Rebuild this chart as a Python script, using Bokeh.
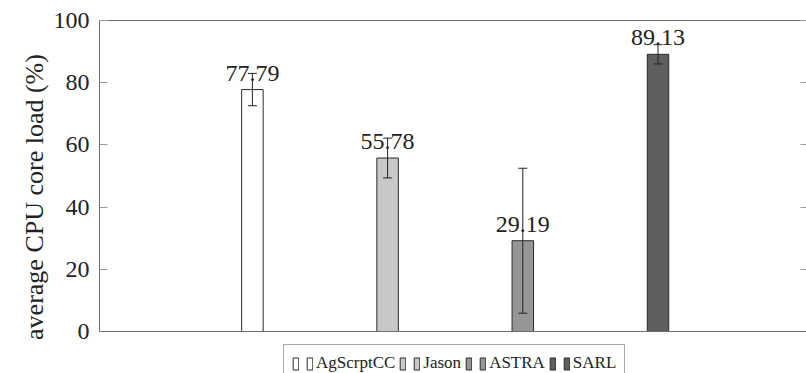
from bokeh.plotting import figure
from bokeh.models import (ColumnDataSource, LinearAxis, FixedTicker, Whisker, TeeHead,
                          LabelSet, Legend, LegendItem, Range1d, Span, Title)
from bokeh.core.properties import value
from bokeh.embed import file_html
from bokeh.resources import INLINE

# Average CPU core load per agent platform, with standard deviation
platforms = ["AgScrptCC", "Jason", "ASTRA", "SARL"]
cpu_load = [77.79, 55.78, 29.19, 89.13]
cpu_load_sd = [5.2, 6.4, 23.3, 3.1]
bar_fills = ["#ffffff", "#c8c8c8", "#969696", "#5f5f5f"]
y_ticks = [0, 20, 40, 60, 80, 100]
y_label = "average CPU core load (%)"

SERIF = "'Liberation Serif'"
INK = "#222222"
AXIS_GRAY = "#6e6e6e"
TICK_GRAY = "#9a9a9a"

xs = [i + 1 for i in range(len(platforms))]
src = ColumnDataSource(data=dict(
    x=xs,
    top=cpu_load,
    upper=[v + s for v, s in zip(cpu_load, cpu_load_sd)],
    lower=[v - s for v, s in zip(cpu_load, cpu_load_sd)],
    label=[f"{v:.2f}" for v in cpu_load],
    color=bar_fills,
    name=platforms,
))

W, H = 806, 373
LEFT, TOP = 99, 20
AXIS_BOTTOM_PX = 331          # where y = 0 sits
step_px = 135.2
x0 = 1 - (251.9 - LEFT) / step_px
x1 = x0 + (W - LEFT) / step_px
px_per_unit = (AXIS_BOTTOM_PX - TOP) / 100.0
y0 = -(H - AXIS_BOTTOM_PX) / px_per_unit   # frame runs to the canvas bottom, legend sits there

p = figure(width=W, height=H, output_backend="svg", toolbar_location=None, tools="",
           x_range=Range1d(x0, x1), y_range=Range1d(y0, 100),
           x_axis_location=None, y_axis_location="left",
           min_border_left=LEFT, min_border_right=0,
           min_border_top=TOP, min_border_bottom=0)
p.grid.visible = False
p.outline_line_color = None
p.background_fill_color = "white"
p.border_fill_color = "white"

ya = p.yaxis[0]
ya.ticker = FixedTicker(ticks=y_ticks)
ya.bounds = (0, 100)
ya.major_label_text_font = SERIF
ya.major_label_text_font_size = "24px"
ya.major_label_text_color = INK
ya.major_label_standoff = 10
ya.major_tick_in = 8
ya.major_tick_out = 0
ya.major_tick_line_color = TICK_GRAY
ya.minor_tick_line_color = None
ya.axis_line_color = AXIS_GRAY
ya.axis_line_width = 1

# empty spacer between the tick labels and the y title
spacer = LinearAxis(ticker=FixedTicker(ticks=[]), major_label_text_font_size="0px",
                    major_label_standoff=0, major_tick_in=0, major_tick_out=8,
                    major_tick_line_color=None, minor_tick_line_color=None,
                    axis_line_color=None)
p.add_layout(spacer, "left")

# y axis title, centred on the 0-100 span rather than on the whole frame
p.add_layout(Title(text=y_label, align="center", offset=23, standoff=4,
                   text_font=SERIF, text_font_size="26px", text_font_style="normal",
                   text_color=INK), "left")

# mirrored inner ticks on the right side
ra = LinearAxis(ticker=FixedTicker(ticks=y_ticks), major_label_text_font_size="0px",
                major_label_standoff=0, major_tick_in=6, major_tick_out=0,
                major_tick_line_color=TICK_GRAY, minor_tick_line_color=None,
                axis_line_color=None)
p.add_layout(ra, "right")

# plain frame line at the top
top_ax = LinearAxis(ticker=FixedTicker(ticks=[]), major_label_text_font_size="0px",
                    major_label_standoff=0, major_tick_in=0, major_tick_out=0,
                    minor_tick_line_color=None, axis_line_color=AXIS_GRAY, axis_line_width=1)
p.add_layout(top_ax, "above")

# x axis line at y = 0
p.add_layout(Span(location=0, dimension="width", line_color=AXIS_GRAY, line_width=1))

bars = p.vbar(x="x", top="top", bottom=0, width=0.159, fill_color="color",
              line_color="#2a2a2a", line_width=1, source=src)

whisk = Whisker(base="x", upper="upper", lower="lower", source=src,
                line_color=INK, line_width=1, level="overlay",
                upper_head=TeeHead(size=9, line_color=INK, line_width=1),
                lower_head=TeeHead(size=9, line_color=INK, line_width=1))
p.add_layout(whisk)

labels = LabelSet(x="x", y="top", text="label", source=src, y_offset=9,
                  text_align="center", text_baseline="alphabetic",
                  text_font=value(SERIF), text_font_size="24px", text_color=INK)
p.add_layout(labels)

# each legend entry shows two small bars followed by its name
items = []
for i, name in enumerate(platforms):
    items.append(LegendItem(label=value(""), renderers=[bars], index=i))
    items.append(LegendItem(label=value(name), renderers=[bars], index=i))

legend = Legend(items=items, orientation="horizontal", location=(184, -9),
                label_text_font=SERIF, label_text_font_size="17px", label_text_color=INK,
                glyph_width=7, glyph_height=15, label_standoff=3, spacing=4,
                label_width=0, label_height=0,
                padding=8, margin=0, border_line_color="#555555", border_line_width=1,
                background_fill_color="white", background_fill_alpha=1.0)
p.add_layout(legend, "center")

open("out.html", "w").write(file_html(p, INLINE))
